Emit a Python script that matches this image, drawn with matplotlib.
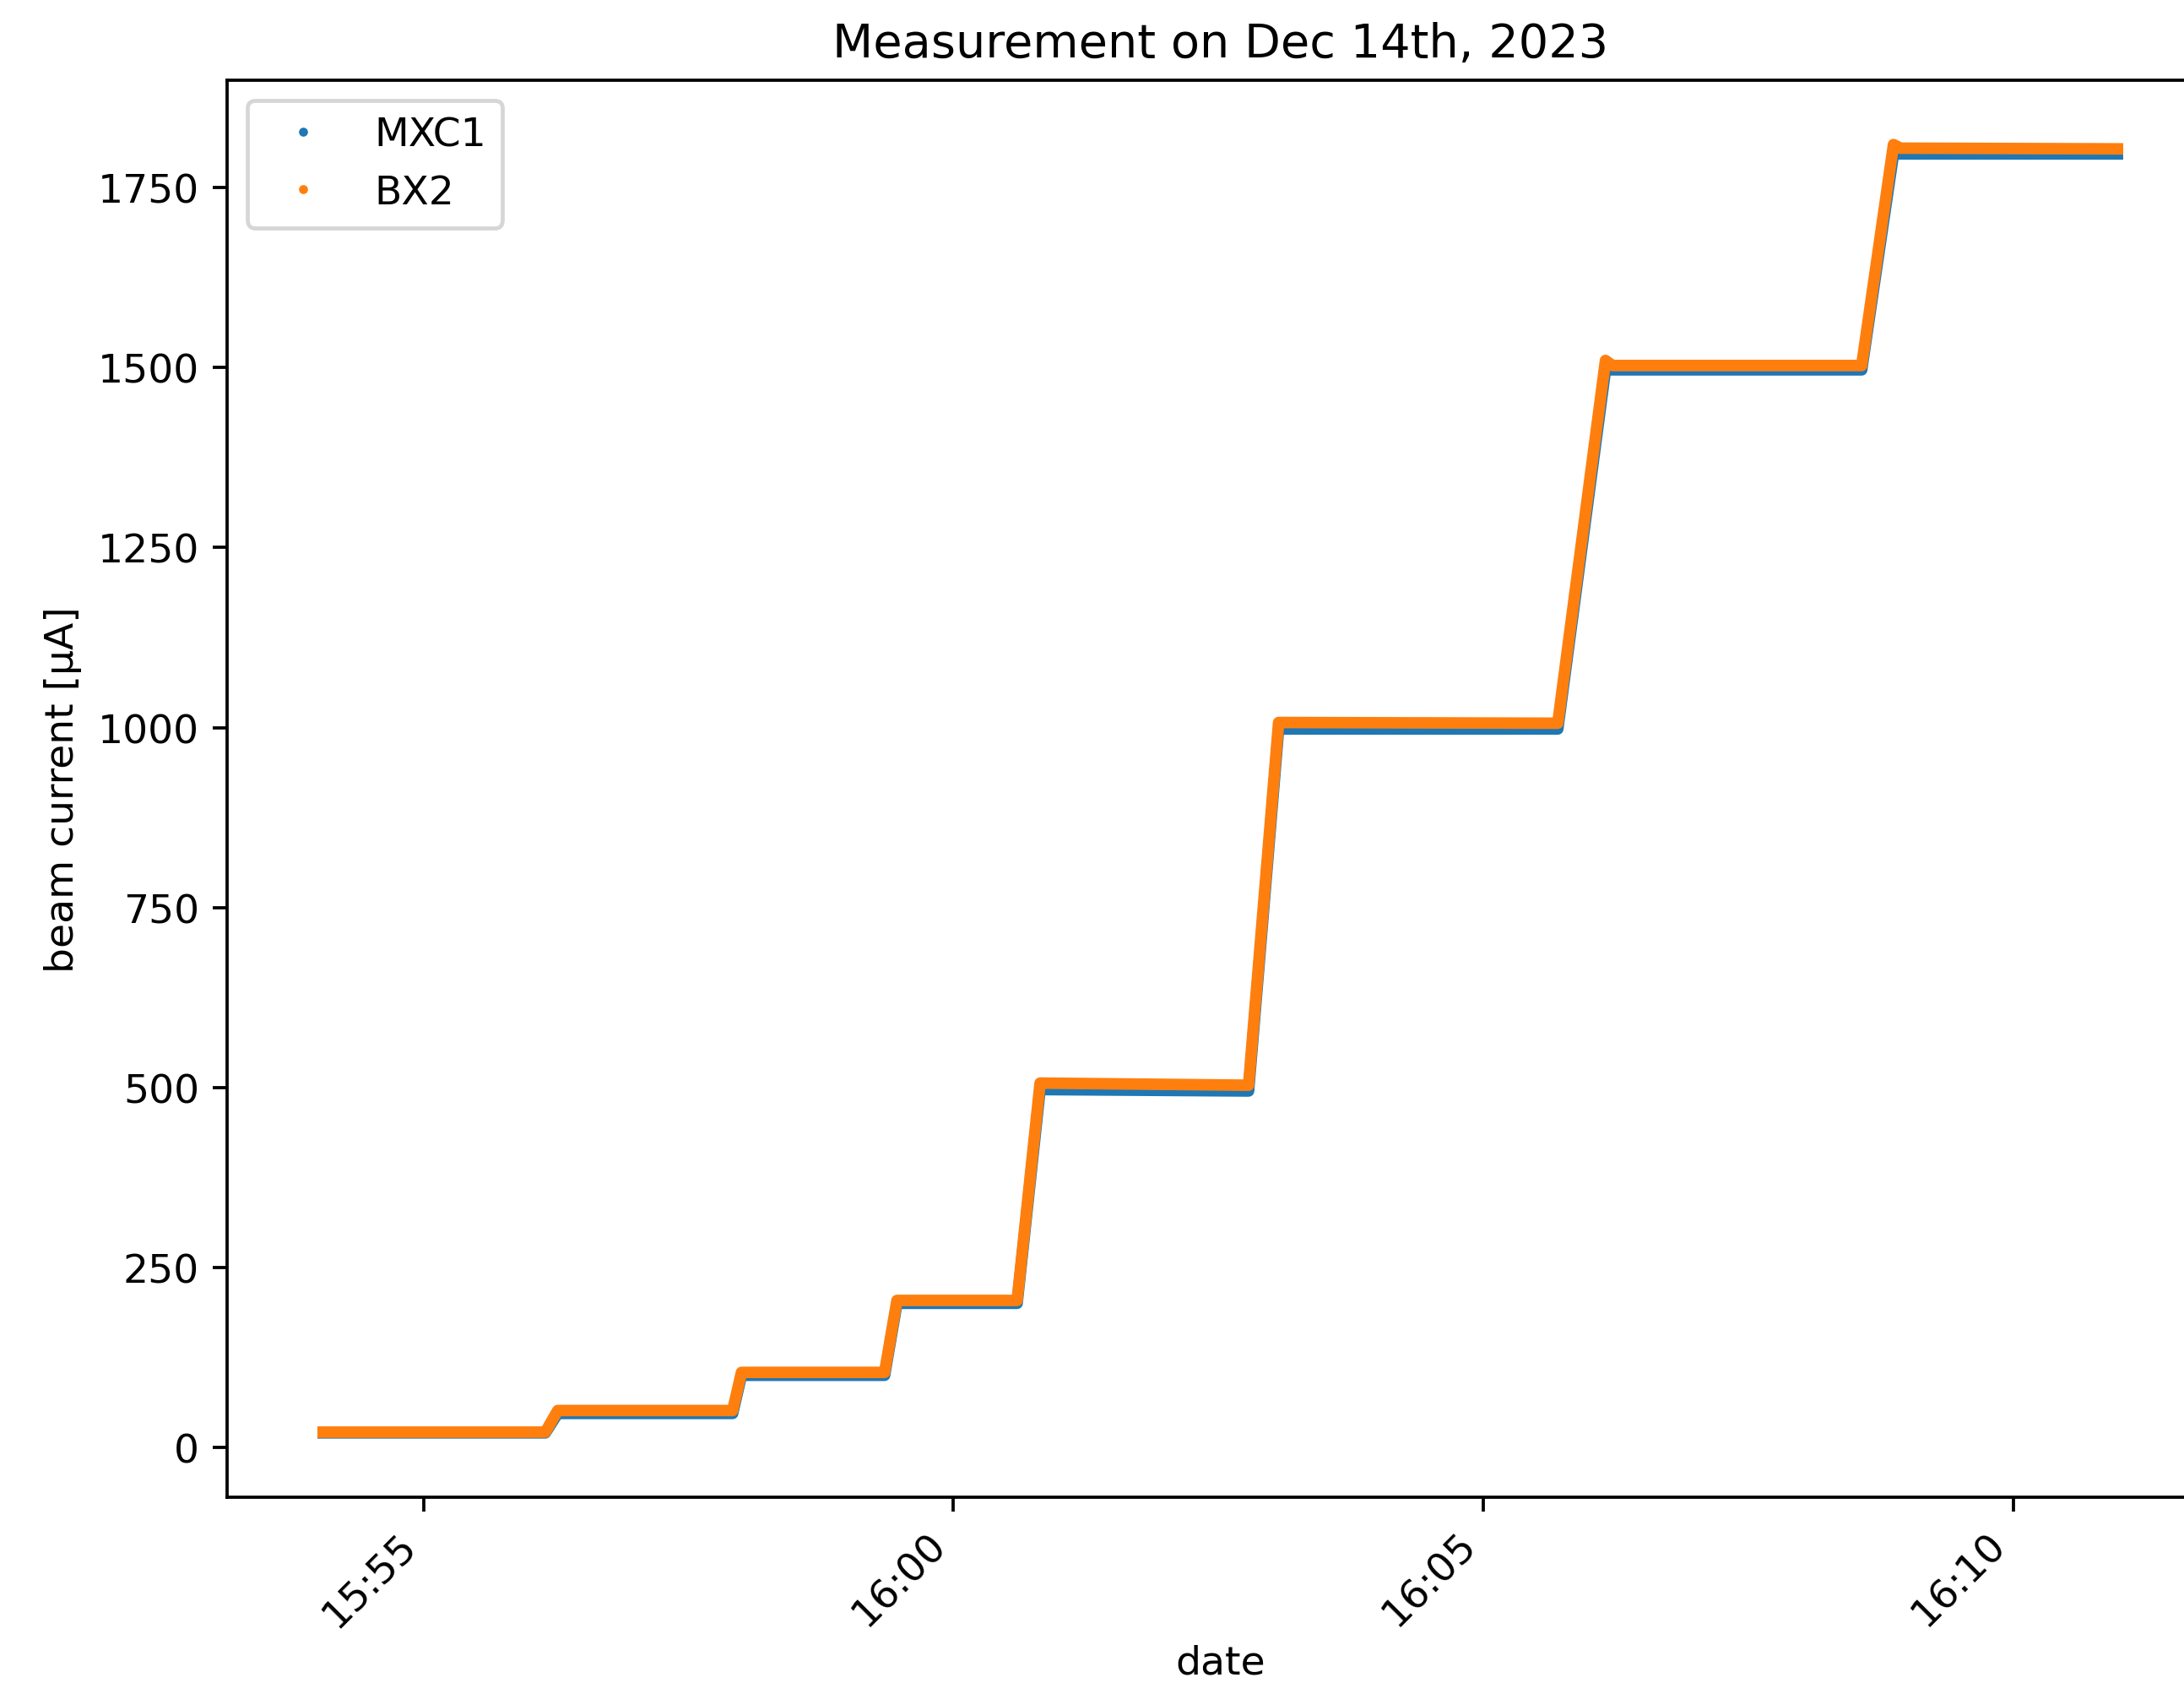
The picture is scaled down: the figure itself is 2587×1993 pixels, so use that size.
import numpy as np
import pandas as pd
import matplotlib
matplotlib.use('Agg')
import matplotlib.pyplot as plt
import matplotlib.dates as mdates
from matplotlib.lines import Line2D

start = pd.Timestamp('2023-12-14 15:54:00')

# MXC1 readings: seconds after 15:54:00, beam current [uA]
mxc1_sec = [0, 129, 136, 235, 240, 321, 328, 396, 409, 527, 544, 702, 729, 874, 892, 1022]
mxc1_val = [20, 20, 47, 47, 100, 100, 200, 200, 497, 495, 998, 998, 1497, 1497, 1797, 1797]

# BX2 readings
bx2_sec = [0, 129, 136, 235, 240, 321, 328, 396, 409, 527, 544, 702, 729, 733, 874, 892, 896, 1022]
bx2_val = [21, 21, 51, 51, 104, 104, 204, 204, 506, 503, 1007, 1006, 1510, 1503, 1503, 1810, 1805, 1804]

mxc1 = pd.Series(mxc1_val, index=start + pd.to_timedelta(mxc1_sec, unit='s'))
bx2 = pd.Series(bx2_val, index=start + pd.to_timedelta(bx2_sec, unit='s'))

DPI = 340
fig = plt.figure(figsize=(2587 / DPI, 1994 / DPI), dpi=DPI)
ax = fig.add_axes([0.104, 0.1103, 0.9095, 0.8416])

ax.plot(mxc1.index, mxc1.values, color='C0', lw=2.9, solid_joinstyle='round', solid_capstyle='butt')
ax.plot(bx2.index, bx2.values, color='C1', lw=2.9, solid_joinstyle='round', solid_capstyle='butt')

handles = [Line2D([], [], color='C0', marker='.', ls='none', ms=2.5),
           Line2D([], [], color='C1', marker='.', ls='none', ms=2.5)]
ax.legend(handles, ['MXC1', 'BX2'], loc='upper left')

ax.xaxis.set_major_locator(mdates.MinuteLocator(byminute=range(0, 60, 5)))
ax.xaxis.set_major_formatter(mdates.DateFormatter('%H:%M'))
plt.setp(ax.get_xticklabels(), rotation=45, ha='right')

ax.set_title('Measurement on Dec 14th, 2023', fontsize=11.8)
ax.set_xlabel('date', labelpad=2.5)
ax.set_ylabel('beam current [µA]')

fig.savefig('out.png', dpi=DPI)
